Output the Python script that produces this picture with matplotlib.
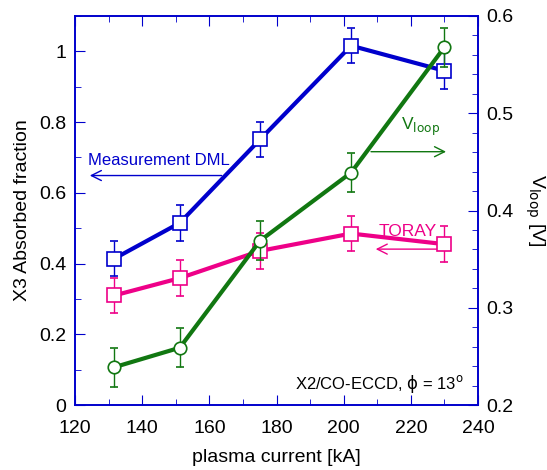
import matplotlib.pyplot as plt
import numpy as np
from matplotlib.ticker import MultipleLocator

plt.rcParams['font.family'] = ['Liberation Sans', 'DejaVu Sans']

# data
current = [131.7, 151.2, 175.1, 202.2, 230.0]
dml = [0.414, 0.515, 0.751, 1.016, 0.945]
dml_err = [0.05, 0.05, 0.05, 0.05, 0.05]
toray = [0.310, 0.359, 0.436, 0.485, 0.455]
toray_err = [0.05, 0.05, 0.05, 0.05, 0.05]
vloop = [0.239, 0.259, 0.369, 0.439, 0.568]
vloop_err = [0.02, 0.02, 0.02, 0.02, 0.02]

blue = '#0000cc'
pink = '#ee0088'
green = '#117711'

fig = plt.figure(figsize=(5.47, 4.70), dpi=100)
ax = fig.add_axes([0.137, 0.138, 0.737, 0.828])
ax2 = ax.twinx()

ax.errorbar(current, dml, yerr=dml_err, color=blue, lw=3, marker='s', ms=10,
            mfc='white', mec=blue, mew=1.2, ecolor=blue, elinewidth=1, capsize=3, zorder=3)
ax.errorbar(current, toray, yerr=toray_err, color=pink, lw=3, marker='s', ms=10,
            mfc='white', mec=pink, mew=1.2, ecolor=pink, elinewidth=1, capsize=3, zorder=3)
ax2.errorbar(current, vloop, yerr=vloop_err, color=green, lw=3, marker='o', ms=9,
             mfc='white', mec=green, mew=1.2, ecolor=green, elinewidth=1, capsize=3)

# arrows and labels
ax.annotate('', xy=(123.6, 0.649), xytext=(164.5, 0.649),
            arrowprops=dict(arrowstyle='->', color=blue, lw=1, mutation_scale=18))
ax.text(124, 0.67, 'Measurement DML', color=blue, fontsize=12, ha='left', va='bottom')
ax.annotate('', xy=(208.7, 0.441), xytext=(230, 0.441),
            arrowprops=dict(arrowstyle='->', color=pink, lw=1, mutation_scale=18))
ax.text(219, 0.47, 'TORAY', color=pink, fontsize=12.5, ha='center', va='bottom')
ax2.annotate('', xy=(231.3, 0.4605), xytext=(207.3, 0.4605),
             arrowprops=dict(arrowstyle='->', color=green, lw=1, mutation_scale=18))
ax2.text(223, 0.475, r'V$_{\mathrm{loop}}$', color=green, fontsize=12.5, ha='center', va='bottom')
ax.text(235.7, 0.06, r'X2/CO-ECCD, $\mathrm{\phi}$ = 13$^{\mathrm{o}}$', fontsize=12,
        ha='right', va='center')

ax.set_xlim(120, 240)
ax.set_ylim(0, 1.1)
ax2.set_ylim(0.2, 0.6)

ax.xaxis.set_major_locator(MultipleLocator(20))
ax.xaxis.set_minor_locator(MultipleLocator(10))
ax.yaxis.set_minor_locator(MultipleLocator(0.1))
ax2.yaxis.set_major_locator(MultipleLocator(0.1))
ax2.yaxis.set_minor_locator(MultipleLocator(0.02))
ax.set_yticks([0, 0.2, 0.4, 0.6, 0.8, 1.0])
ax.set_yticklabels(['0', '0.2', '0.4', '0.6', '0.8', '1'])

for a in (ax, ax2):
    for s in a.spines.values():
        s.set_color(blue)
        s.set_linewidth(1.2)
    a.tick_params(which='both', direction='in', color=blue, labelsize=14, pad=6)
    a.tick_params(which='major', length=7)
    a.tick_params(which='minor', length=4)
ax.tick_params(which='both', top=True)
ax.tick_params(axis='x', pad=11)

ax.set_xlabel('plasma current [kA]', fontsize=14, labelpad=8)
ax.set_ylabel('X3 Absorbed fraction', fontsize=14, labelpad=6)
ax2.set_ylabel(r'V$_{\mathrm{loop}}$ [V]', fontsize=14, rotation=270, labelpad=24)

fig.savefig('out.png', dpi=100)
